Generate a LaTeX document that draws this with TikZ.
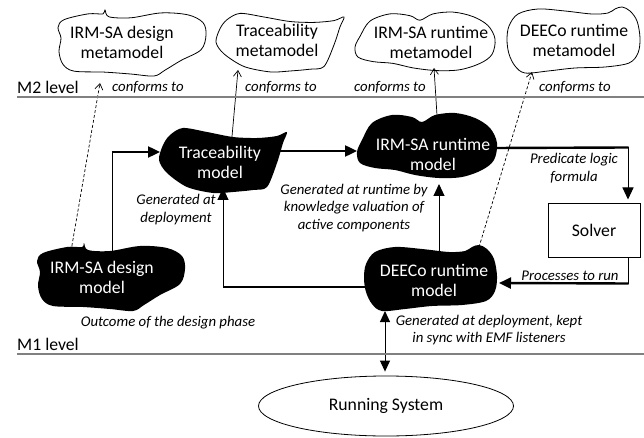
\documentclass[tikz,border=0pt]{standalone}
\usepackage{fontspec}
\setmainfont{Carlito}
\usetikzlibrary{arrows.meta,calc,backgrounds,shapes.geometric}

\tikzset{
  mtext/.style={align=center, inner sep=0pt, font=\fontsize{17.7}{20}\selectfont},
  wtext/.style={mtext, text=white},
  note/.style={align=center, inner sep=0pt, font=\fontsize{14.8}{17.5}\selectfont\itshape},
  hline/.style={line width=2.4pt},
  vline/.style={line width=1pt},
  tip/.style={-{Triangle[length=12pt,width=11pt]}},
  conf/.style={line width=0.7pt, -{Straight Barb[length=6pt,width=8pt]}},
  dashconf/.style={conf, dash pattern=on 3pt off 2pt},
  levelline/.style={draw=black!50, line width=1.4pt},
  metablob/.style={draw, line width=0.8pt},
  modelblob/.style={fill=black}
}

% blob outlines, given around the text centre (y grows downwards)
\newcommand{\designblob}[1]{\path[#1] plot[smooth cycle, tension=0.55] coordinates {
    (-59,-24) (-35,-30) (-20,-30) (-18,-34) (-14,-27) (8,-26) (38,-31) (65,-29)
    (80,-21) (83,-8) (78,7) (58,18) (42,28) (31,34) (8,32) (-19,30) (-49,29)
    (-60,22) (-64,9) (-62,-5) (-65,-16)};}
\newcommand{\traceblob}[1]{\path[#1] plot[smooth cycle, tension=0.5] coordinates {
    (-50,-27) (-37,-34) (-13,-30) (13,-25) (37,-24) (57,-26) (67,-30) (63,-19)
    (57,1) (47,25) (33,28) (13,30) (-7,31) (-33,25) (-53,11) (-61,-2) (-57,-17)};}
\newcommand{\runtimeblob}[1]{\path[#1] plot[smooth cycle, tension=0.55] coordinates {
    (-71,-14) (-61,-31) (-41,-39) (-21,-37) (-11,-32) (2,-39) (22,-41) (42,-36)
    (57,-26) (64,-11) (61,6) (49,16) (29,23) (6,24) (-18,21) (-38,16) (-58,14)
    (-73,9) (-76,-2)};}
\newcommand{\deecoblob}[1]{\path[#1] plot[smooth cycle, tension=0.55] coordinates {
    (-59,-28) (-39,-33) (-12,-31) (15,-28) (31,-29) (38,-33) (45,-35) (53,-31)
    (60,-21) (63,-4) (61,11) (52,21) (28,25) (-2,26) (-29,29) (-52,31) (-62,24)
    (-68,12) (-70,-2) (-68,-16)};}

\begin{document}
\begin{tikzpicture}[x=1pt, y=-1pt]
  \useasboundingbox (0,0) rectangle (644,438);

  % levels
  \draw[levelline] (17,97) -- (644,97);
  \draw[levelline] (17,354) -- (644,354);
  \node[mtext, anchor=base west] (m2) at (17,93.5) {M2 level};
  \node[mtext, anchor=base west] (m1) at (17,350.5) {M1 level};

  % metamodels (M2)
  \designblob{metablob, shift={(123,43)}, yscale=0.97}
  \traceblob{metablob, shift={(277,44)}, yscale=0.9}
  \runtimeblob{metablob, shift={(431,49)}, yscale=0.9}
  \deecoblob{metablob, shift={(577,42)}}
  \node[mtext] (dsmm) at (122,42) {IRM-SA design\\metamodel};
  \node[mtext] (trmm) at (277,40) {Traceability\\metamodel};
  \node[mtext] (irtm) at (431,42) {IRM-SA runtime\\metamodel};
  \node[mtext] (dcmm) at (574,40) {DEECo runtime\\metamodel};

  % models (M1)
  \designblob{modelblob, shift={(102,277)}}
  \traceblob{modelblob, shift={(220,162)}}
  \runtimeblob{modelblob, shift={(433,154)}}
  \deecoblob{modelblob, shift={(434,280)}}
  \node[wtext] (dsm) at (102,277) {IRM-SA design\\model};
  \node[wtext] (trm) at (220,162) {Traceability\\model};
  \node[wtext] (irt) at (433,154) {IRM-SA runtime\\model};
  \node[wtext] (dcm) at (434,280) {DEECo runtime\\model};

  \node[mtext, draw, line width=1pt, minimum width=92pt, minimum height=53pt] (solver) at (594,230.5) {Solver};
  \node[mtext, ellipse, draw, line width=0.8pt, minimum width=255pt, minimum height=60pt] (run) at (386,406) {Running System};

  % labels
  \begin{scope}[every node/.style={note}]
    \node[anchor=west] (cf1) at (112,87) {conforms to};
    \node[anchor=west] (cf2) at (245,87) {conforms to};
    \node[anchor=west] (cf3) at (354,87) {conforms to};
    \node[anchor=west] (cf4) at (539,87) {conforms to};
    \node (lgd) at (176,209.5) {Generated at\\deployment};
    \node (lgr) at (354,208) {Generated at runtime by\\knowledge valuation of\\active components};
    \node (lpred) at (574,168) {Predicate logic\\formula};
    \node (lproc) at (570,276) {Processes to run};
    \node (lout) at (168,323) {Outcome of the design phase};
    \node (lgk) at (489,330) {Generated at deployment, kept\\in sync with EMF listeners};
  \end{scope}

  % connectors
  \begin{scope}[on background layer]
    \draw[dashconf] ($(dsm)+(-31,-26)$) -- ($(dsmm)+(-22,41)$);
    \draw[conf] ($(trm)+(11.5,-20)$) -- ($(trmm)+(-39,30)$);
    \draw[conf] ($(irt)+(4.3,-34)$) -- ($(irtm)+(3,26)$);
    \draw[dashconf] ($(dcm)+(43.5,-28)$) -- ($(dcmm)+(-42,32)$);

    \draw[vline] ($(dsm)+(10,-20)$) -- ($(dsm)+(10,-125)$);
    \draw[hline,tip] ($(dsm)+(9.5,-125)$) -- ($(trm)+(-60,-10)$);
    \draw[hline,tip] ($(trm)+(60,-11)$) -- ($(irt)+(-76,-3)$);
    \draw[hline] ($(irt)+(60,-6)$) -- ($(solver.north)+(34.5,-56)$);
    \draw[vline,tip] ($(solver.north)+(34,-56)$) -- ($(solver.north)+(34,-4)$);
    \draw[vline] ($(solver.south)+(34,0)$) -- ($(solver.south)+(34,26)$);
    \draw[hline,tip] ($(solver.south)+(34.5,26)$) -- ($(dcm)+(65,3)$);
    \draw[hline] ($(dcm)+(-62,7)$) -- ($(trm)+(2.5,125)$);
    \draw[vline,tip] ($(trm)+(3,125)$) -- ($(trm)+(3,26)$);
    \draw[vline,tip] ($(dcm)+(5,-25)$) -- ($(irt)+(6,30)$);
    \draw[vline,{Triangle[length=11pt,width=10pt]}-{Triangle[length=11pt,width=10pt]}]
      ($(dcm)+(-49,31)$) -- ($(run.north)+(-1,-4)$);
  \end{scope}
\end{tikzpicture}
\end{document}
